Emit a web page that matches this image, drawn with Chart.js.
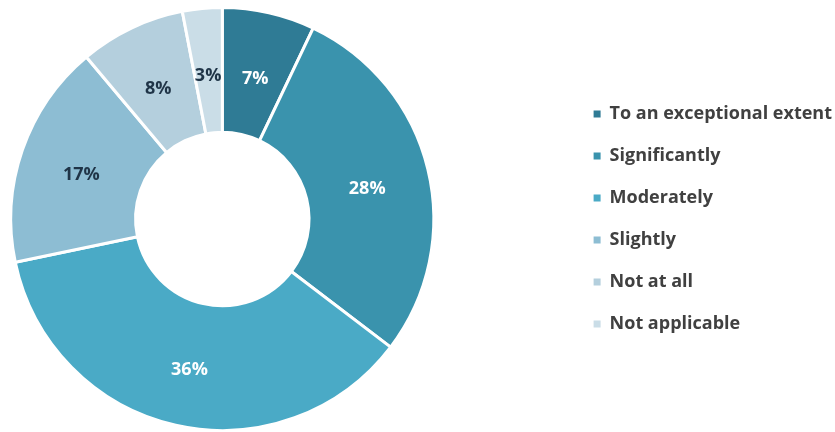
<!DOCTYPE html>
<html>
<head>
<meta charset="utf-8">
<script src="https://cdn.jsdelivr.net/npm/chart.js@4.4.1/dist/chart.umd.min.js"></script>
<style>
  html, body { margin: 0; padding: 0; background: #ffffff; overflow: hidden; }
  #wrap { position: relative; width: 835px; height: 432px; overflow: hidden; }
  #chart { position: absolute; top: 0; }
</style>
</head>
<body>
<div id="wrap"><canvas id="chart"></canvas></div>
<script>
// Survey answers and their shares (percent)
const categories = [
  'To an exceptional extent',
  'Significantly',
  'Moderately',
  'Slightly',
  'Not at all',
  'Not applicable'
];
const shares = [7, 28, 36, 17, 8, 3];
const sliceColors = ['#2f7b95', '#3a93ad', '#4aaac6', '#8dbdd3', '#b4cfdd', '#cadde7'];
const labelColors = ['#ffffff', '#ffffff', '#ffffff', '#1f3447', '#1f3447', '#1f3447'];

const legendFont = { family: 'Open Sans', size: 18, weight: 'bold' };
const legendBox = 7;
const legendGap = 24;

// Width the legend will claim on the right
function legendWidth() {
  const c = document.createElement('canvas').getContext('2d');
  c.font = `${legendFont.weight} ${legendFont.size}px "${legendFont.family}"`;
  const widest = Math.max(...categories.map(t => c.measureText(t).width));
  return legendGap + legendBox + legendFont.size / 2 + widest + 10;
}

// The canvas reaches past the left edge so the ring sits at x = 222.5
const ringCenterX = 222.5;
const textRightEdge = 832;
const W = legendWidth();
const extraRight = textRightEdge + 10 - 835;
const shiftLeft = Math.round(835 + extraRight - W - 2 * ringCenterX);
const canvas = document.getElementById('chart');
canvas.width = 835 + extraRight + shiftLeft;
canvas.height = 432;
canvas.style.left = (-shiftLeft) + 'px';

// Percent labels at the middle of each arc
const sliceLabels = {
  id: 'sliceLabels',
  afterDatasetsDraw(chart) {
    const { ctx } = chart;
    const meta = chart.getDatasetMeta(0);
    ctx.save();
    ctx.font = 'bold 18px "Open Sans"';
    ctx.textAlign = 'center';
    ctx.textBaseline = 'middle';
    meta.data.forEach((arc, i) => {
      const p = arc.getCenterPoint();
      ctx.fillStyle = labelColors[i];
      ctx.fillText(shares[i] + '%', p.x, p.y + 5);
    });
    ctx.restore();
  }
};

new Chart(canvas, {
  type: 'doughnut',
  data: {
    labels: categories,
    datasets: [{
      data: shares,
      backgroundColor: sliceColors,
      borderColor: '#ffffff',
      borderWidth: 3
    }]
  },
  options: {
    responsive: false,
    animation: false,
    cutout: '41%',
    layout: { padding: { top: 6, bottom: 0, left: 0, right: 0 } },
    plugins: {
      tooltip: { enabled: false },
      legend: {
        position: 'right',
        labels: {
          boxWidth: legendBox,
          boxHeight: legendBox,
          padding: legendGap,
          color: '#404040',
          font: legendFont,
          generateLabels(chart) {
            const items = Chart.overrides.doughnut.plugins.legend.labels.generateLabels(chart);
            items.forEach(it => { it.lineWidth = 0; it.strokeStyle = it.fillStyle; });
            return items;
          }
        }
      }
    }
  },
  plugins: [sliceLabels]
});
</script>
</body>
</html>
